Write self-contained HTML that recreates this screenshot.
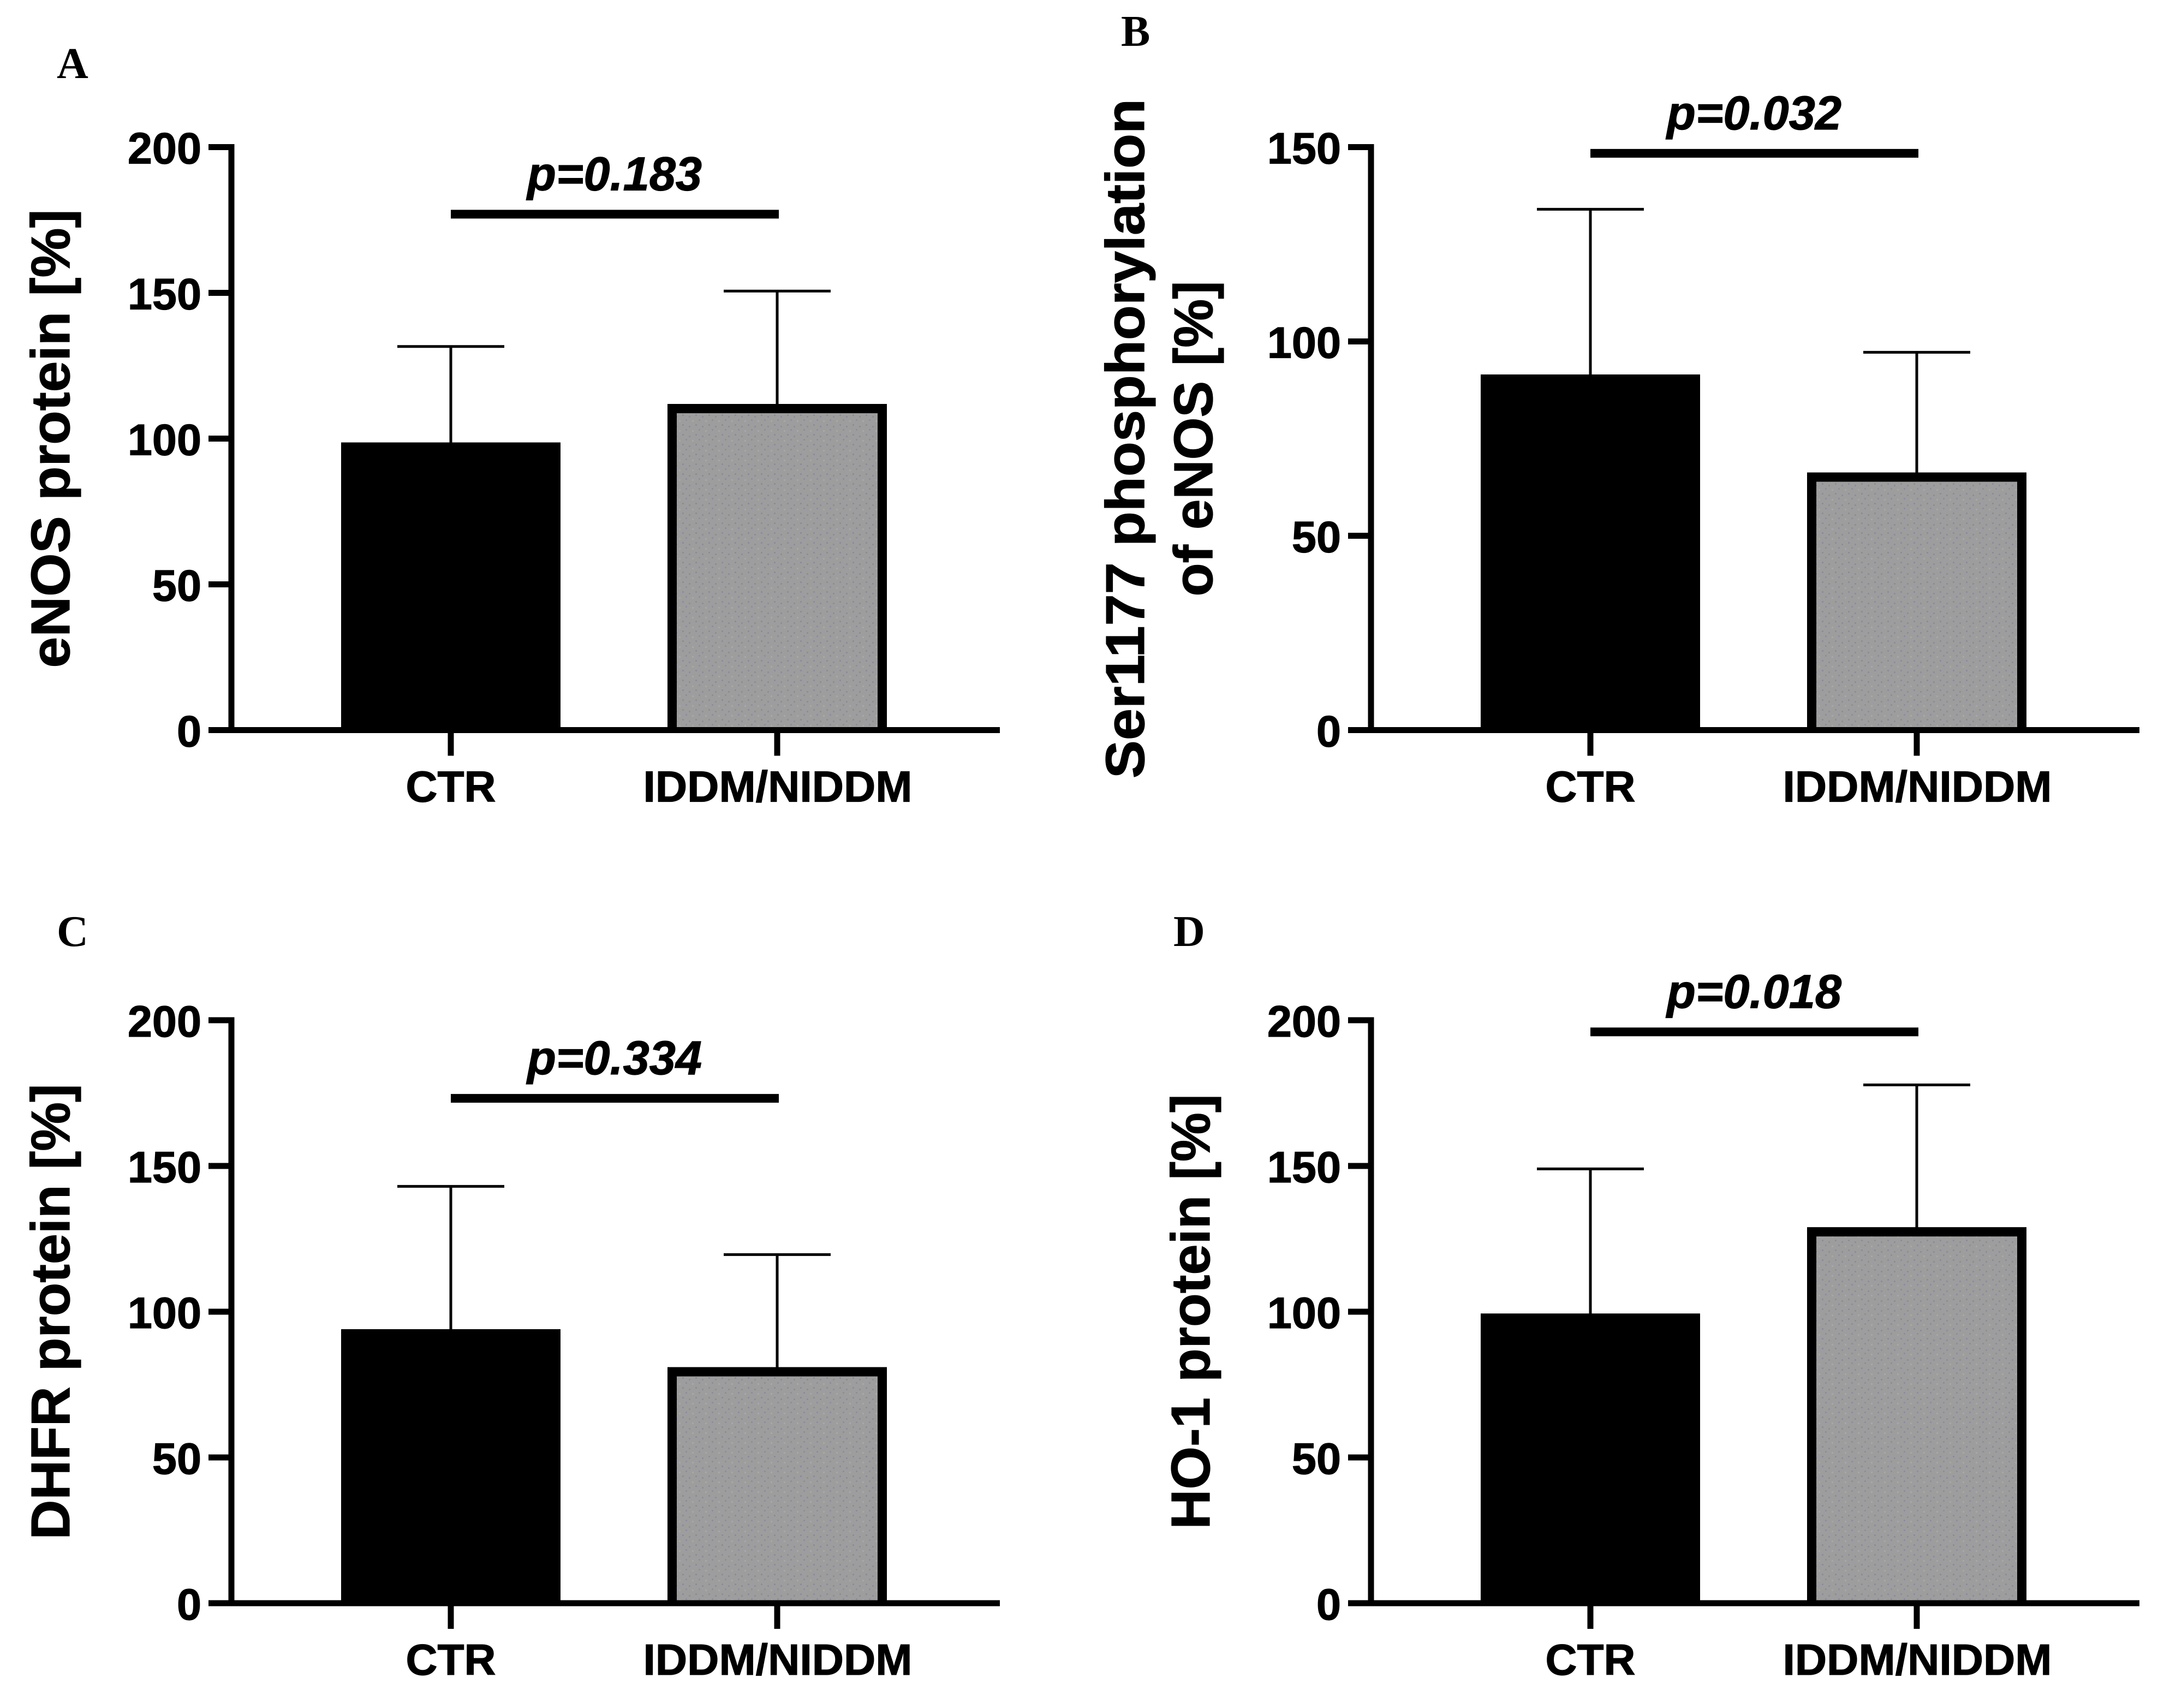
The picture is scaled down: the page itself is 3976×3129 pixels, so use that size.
<!DOCTYPE html>
<html lang="en">
<head>
<meta charset="utf-8">
<title>Protein levels in CTR and IDDM/NIDDM groups</title>
<style>
html,body{margin:0;padding:0;background:#fff;}
svg{display:block;}
text{font-family:"Liberation Sans",Arial,sans-serif;font-weight:bold;fill:#000;stroke:#000;stroke-width:1.2px;}
.letter{font-family:"Liberation Serif","Times New Roman",serif;font-size:80px;stroke-width:0;}
</style>
</head>
<body>
<svg id="figure" xmlns="http://www.w3.org/2000/svg" width="3976" height="3129" viewBox="0 0 3976 3129">
<defs>
<pattern id="speckle" width="24" height="18" patternUnits="userSpaceOnUse">
<rect width="24" height="18" fill="#9e9d9e"/>
<rect x="2" y="3" width="3" height="3" fill="#8e8b99"/>
<rect x="14" y="6" width="3" height="3" fill="#908c96"/>
<rect x="8" y="12" width="3" height="3" fill="#8f8d9b"/>
<rect x="20" y="14" width="3" height="3" fill="#a8a8a4"/>
</pattern>
</defs>
<rect width="3976" height="3129" fill="#fff"/>
</svg>
<script>
// ---- data ----
const categories = ["CTR", "IDDM/NIDDM"];
const panelLetters = ["A", "B", "C", "D"];
const pLabels = ["p=0.183", "p=0.032", "p=0.334", "p=0.018"];

const ticksA = [0, 50, 100, 150, 200];
const ticksB = [0, 50, 100, 150];
const ticksC = [0, 50, 100, 150, 200];
const ticksD = [0, 50, 100, 150, 200];

const meansA = [98.7, 111.9];
const errorTopsA = [131.6, 150.6];
const sigLevelA = 177;

const meansB = [91.5, 66.3];
const errorTopsB = [134, 97.2];
const sigLevelB = 148.4;

const meansC = [94, 81];
const errorTopsC = [143, 119.6];
const sigLevelC = 173.2;

const meansD = [99.4, 129];
const errorTopsD = [149, 177.8];
const sigLevelD = 196;

// ---- drawing ----
const svg = document.getElementById("figure");
const NS = "http://www.w3.org/2000/svg";

function make(tag, attrs, content) {
  const el = document.createElementNS(NS, tag);
  for (const k in attrs) el.setAttribute(k, attrs[k]);
  if (content !== undefined) el.textContent = content;
  return el;
}

function drawPanel(cfg) {
  const key = cfg.letter.toLowerCase();
  const g = make("g", {});
  
  
  svg.appendChild(g);

  const axisX = cfg.axisX;
  const y0 = cfg.y0;
  const yMax = cfg.ticks[cfg.ticks.length - 1];
  const yScale = v => y0 - (v / yMax) * 1068;
  const xScale = i => axisX + 402 + i * 598;
  const barHalf = 201;
  const border = 17;

  // panel letter
  const letter = make("text", { x: cfg.letterX, y: cfg.letterY, "class": "letter" }, cfg.letter);
  
  
  g.appendChild(letter);

  // y-axis title lines
  cfg.titles.forEach((t, i) => {
    const title = make("text", {
      transform: "translate(" + t.x + "," + (y0 - 534) + ") rotate(-90)",
      "text-anchor": "middle",
      "font-size": 100,
      textLength: t.len,
      lengthAdjust: "spacingAndGlyphs"
    }, t.text);
    
    
    g.appendChild(title);
  });

  // error bars go behind the bars
  categories.forEach((c, i) => {
    const x = xScale(i);
    const top = yScale(cfg.errorTops[i]);
    const stem = make("line", { x1: x, x2: x, y1: top, y2: yScale(cfg.means[i]) + 4, stroke: "#000", "stroke-width": 5 });
    
    
    g.appendChild(stem);
    const cap = make("line", { x1: x - 98, x2: x + 98, y1: top, y2: top, stroke: "#000", "stroke-width": 5 });
    
    
    g.appendChild(cap);
  });

  // bars: outlined on three sides, the x-axis closes the bottom
  categories.forEach((c, i) => {
    const x = xScale(i);
    const top = yScale(cfg.means[i]) + border / 2;
    const left = x - barHalf + border / 2;
    const right = x + barHalf - border / 2;
    const bar = make("path", {
      d: "M" + left + " " + y0 + "V" + top + "H" + right + "V" + y0,
      fill: i === 0 ? "#000" : "url(#speckle)",
      stroke: "#000",
      "stroke-width": border
    });
    
    
    g.appendChild(bar);
  });

  // axes
  const yAxis = make("line", { x1: axisX, x2: axisX, y1: yScale(yMax) - 5.5, y2: y0 + 5.5, stroke: "#000", "stroke-width": 11 });
  
  
  g.appendChild(yAxis);

  const xAxis = make("line", { x1: axisX - 42, x2: axisX + 1408, y1: y0, y2: y0, stroke: "#000", "stroke-width": 11 });
  
  
  g.appendChild(xAxis);

  cfg.ticks.forEach(v => {
    const y = yScale(v);
    const tick = make("line", { x1: axisX - 42, x2: axisX, y1: y, y2: y, stroke: "#000", "stroke-width": 11 });
    
    
    g.appendChild(tick);
    const label = make("text", { x: axisX - 55, y: y + 30, "text-anchor": "end", "font-size": 81 }, String(v));
    
    
    g.appendChild(label);
  });

  categories.forEach((c, i) => {
    const x = xScale(i);
    const tick = make("line", { x1: x, x2: x, y1: y0, y2: y0 + 47, stroke: "#000", "stroke-width": 11 });
    
    
    g.appendChild(tick);
    const label = make("text", {
      x: x + (i === 0 ? 0 : 1), y: y0 + 131, "text-anchor": "middle", "font-size": 80,
      textLength: i === 0 ? 165 : 493,
      lengthAdjust: "spacingAndGlyphs"
    }, c);
    
    
    g.appendChild(label);
  });

  // significance bar and p label
  const sigY = yScale(cfg.sigLevel);
  const sig = make("line", { x1: xScale(0), x2: xScale(1) + 3, y1: sigY, y2: sigY, stroke: "#000", "stroke-width": 16 });
  
  
  g.appendChild(sig);
  const p = make("text", {
    x: (xScale(0) + xScale(1)) / 2 + 1, y: sigY - 44,
    "text-anchor": "middle", "font-size": 87, "font-style": "italic",
    textLength: 320, lengthAdjust: "spacingAndGlyphs"
  }, cfg.p);
  
  
  g.appendChild(p);
}

drawPanel({ letter: panelLetters[0], letterX: 104, letterY: 143, axisX: 424, y0: 1337.5,
  ticks: ticksA, means: meansA, errorTops: errorTopsA, sigLevel: sigLevelA, p: pLabels[0],
  titles: [{ text: "eNOS protein [%]", x: 127, len: 840 }] });

drawPanel({ letter: panelLetters[1], letterX: 2054, letterY: 84, axisX: 2512, y0: 1337.5,
  ticks: ticksB, means: meansB, errorTops: errorTopsB, sigLevel: sigLevelB, p: pLabels[1],
  titles: [{ text: "Ser1177 phosphorylation", x: 2096, len: 1245 }, { text: "of eNOS [%]", x: 2221, len: 578 }] });

drawPanel({ letter: panelLetters[2], letterX: 104, letterY: 1733, axisX: 424, y0: 2937,
  ticks: ticksC, means: meansC, errorTops: errorTopsC, sigLevel: sigLevelC, p: pLabels[2],
  titles: [{ text: "DHFR protein [%]", x: 127, len: 835 }] });

drawPanel({ letter: panelLetters[3], letterX: 2150, letterY: 1733, axisX: 2512, y0: 2937,
  ticks: ticksD, means: meansD, errorTops: errorTopsD, sigLevel: sigLevelD, p: pLabels[3],
  titles: [{ text: "HO-1 protein [%]", x: 2216, len: 797 }] });
</script>
</body>
</html>
